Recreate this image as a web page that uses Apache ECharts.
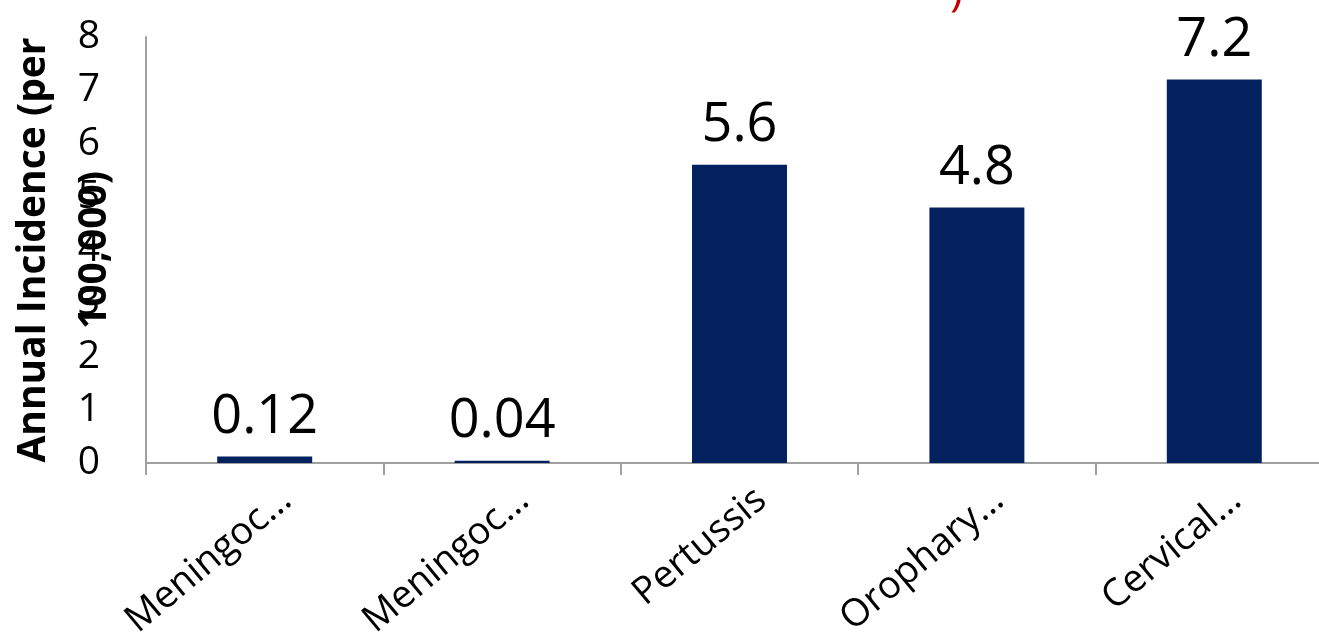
<!DOCTYPE html>
<html>
<head>
<meta charset="utf-8">
<script src="https://cdn.jsdelivr.net/npm/echarts@6/dist/echarts.min.js"></script>
<style>
html,body{margin:0;padding:0;background:#fff;}
#chart{width:1319px;height:639px;}
</style>
</head>
<body>
<div id="chart"></div>
<script>
const categories = ['Meningoc\u2026', 'Meningoc\u2026', 'Pertussis', 'Orophary\u2026', 'Cervical\u2026'];
const values = [0.12, 0.04, 5.6, 4.8, 7.2];
const yTicks = { min: 0, max: 8, interval: 1 };
const yTitle = 'Annual Incidence (per\n100,000)';

const chart = echarts.init(document.getElementById('chart'));
chart.setOption({
  animation: false,
  backgroundColor: '#ffffff',
  grid: { left: 146, right: -14, top: 37, bottom: 176, containLabel: false, outerBoundsMode: 'none' },
  graphic: [{
    type: 'text', left: 950, top: -30,
    style: { text: ')', fontSize: 44, fill: '#c00000', fontFamily: 'Open Sans' }
  }],
  xAxis: {
    type: 'category',
    data: categories,
    axisLine: { lineStyle: { color: '#a0a0a0', width: 2 } },
    axisTick: { show: true, length: 12, lineStyle: { color: '#a0a0a0', width: 2 } },
    axisLabel: {
      interval: 0, rotate: 40, margin: 6, verticalAlign: 'top', lineHeight: 68,
      fontSize: 38, color: '#000', fontFamily: 'Open Sans'
    }
  },
  yAxis: {
    type: 'value',
    min: yTicks.min, max: yTicks.max, interval: yTicks.interval,
    name: yTitle, nameLocation: 'middle', nameRotate: 90, nameGap: 21, nameMoveOverlap: false,
    nameTextStyle: { fontSize: 39, fontWeight: 'bold', color: '#000', fontFamily: 'Open Sans', lineHeight: 61 },
    axisLine: { show: true, lineStyle: { color: '#a0a0a0', width: 2 } },
    axisTick: { show: false },
    splitLine: { show: false },
    axisLabel: { fontSize: 39, color: '#000', margin: 46, fontFamily: 'Open Sans' }
  },
  series: [{
    type: 'bar',
    data: values,
    barWidth: '40%',
    itemStyle: { color: '#03215f' },
    label: { show: true, position: 'top', distance: 12, fontSize: 54, color: '#000', fontFamily: 'Open Sans' }
  }]
});
</script>
</body>
</html>
